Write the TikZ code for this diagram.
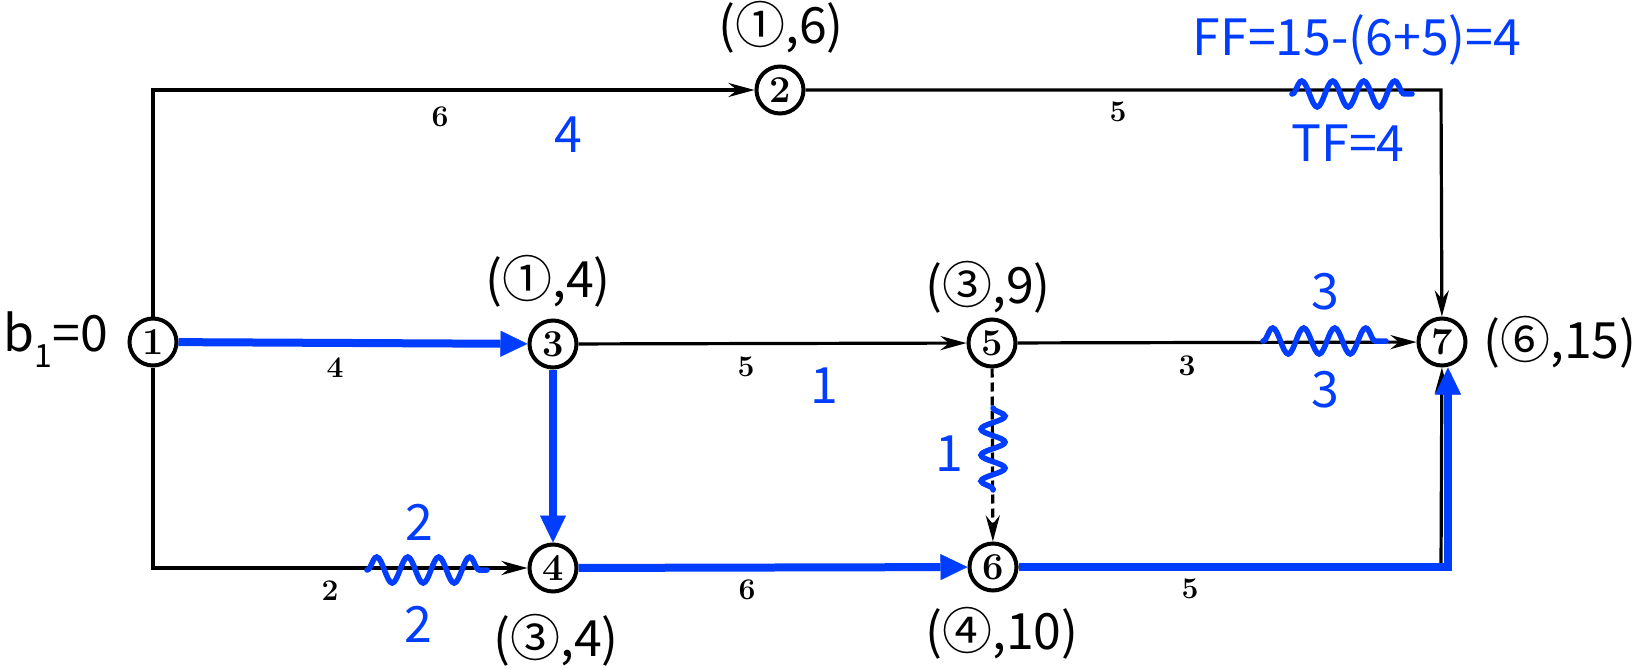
\documentclass[tikz,border=0pt]{standalone}
\usepackage{fontspec}
\newfontfamily\annot{Noto Sans CJK SC}
\usetikzlibrary{arrows.meta,decorations.pathmorphing}
\definecolor{myblue}{RGB}{0,61,255}
\begin{document}
\begin{tikzpicture}[x=1pt,y=-1pt,
  ev/.style={circle,draw,line width=4pt,minimum size=47pt,inner sep=0pt,font=\fontsize{38}{38}\selectfont\bfseries},
  edge/.style={line width=3.2pt,-{Stealth[length=26pt,width=14pt]}},
  crit/.style={myblue,line width=8pt,-{Triangle[length=27pt,width=26pt,line width=0.5pt]}},
  wl/.style={font=\fontsize{30}{30}\selectfont\bfseries},
  bl/.style={myblue,font=\annot\fontsize{50}{50}\selectfont},
  kl/.style={font=\annot\fontsize{50}{50}\selectfont},
  wave/.style={myblue,line width=5.5pt,line cap=round,decorate,decoration={snake,segment length=31pt,amplitude=13pt}},
]
\fill[white] (0,0) rectangle (1634,669);
\useasboundingbox (0,0) rectangle (1634,669);

% event nodes
\node[ev] (n1) at (153,342) {1};
\node[ev] (n2) at (780,90) {2};
\node[ev] (n3) at (553,344) {3};
\node[ev] (n4) at (553,568) {4};
\node[ev] (n5) at (992,343) {5};
\node[ev] (n6) at (993,567) {6};
\node[ev] (n7) at (1442,342) {7};

% corner coordinates
\coordinate (c12) at (153,90);
\coordinate (c27) at (1441,90);
\coordinate (c14) at (153,568);
\coordinate (k67) at (1441,567);
\coordinate (c67) at (1448,567);

% black arrows
\draw[edge] (n1) -- (c12) -- (n2);
\draw[edge] (n2) -- (c27) -- (n7);
\draw[edge] (n3) -- (n5);
\draw[edge] (n5) -- (n7);
\draw[edge] (n1) -- (c14) -- (n4);
\draw[edge,dash pattern=on 9pt off 5pt] (n5) -- (n6);
\draw[edge] (n6) -- (k67) -- (n7);

% critical path
\draw[crit] (n1) -- (n3);
\draw[crit] (n3) -- (n4);
\draw[crit] (n4) -- (n6);
\draw[crit] (n6) -- (c67) -- (c67 |- n7.south);

% waves
\draw[wave] (1292,94) -- (1412,94);
\draw[wave] (1263,341) -- (1386,341);
\draw[wave] (367,570) -- (487,570);
\draw[wave,decoration={snake,segment length=26pt,amplitude=12pt}] (993,408) -- (993,490);

% duration labels
\node[wl] (d12) at (440,117) {6};
\node[wl] (d27) at (1118,112) {5};
\node[wl] (d13) at (335,368) {4};
\node[wl] (d35) at (746,367) {5};
\node[wl] (d57) at (1187,366) {3};
\node[wl] (d14) at (330,591) {2};
\node[wl] (d46) at (747,590) {6};
\node[wl] (d67) at (1190,589) {5};

% blue labels
\node[bl] (b12) at (568,135) {4};
\node[bl] (b35) at (824,386) {1};
\node[bl] (b14a) at (419,522) {2};
\node[bl] (b14b) at (418,624) {2};
\node[bl] (b57a) at (1325,292) {3};
\node[bl] (b57b) at (1325,390) {3};
\node[bl] (b56) at (949,454) {1};
\node[bl] (ff) at (1357,40) {FF=15-(6+5)=4};
\node[bl] (tf) at (1348,143) {TF=4};

% black labels
\node[kl] (l2) at (781,27) {(①,6)};
\node[kl] (l3) at (548,281) {(①,4)};
\node[kl] (l5) at (988,287) {(③,9)};
\node[kl] (l7) at (1560,342) {(⑥,15)};
\node[kl] (l4) at (556,640) {(③,4)};
\node[kl] (l6) at (1002,633) {(④,10)};
\node[kl] (l1) at (56,340) {b\raisebox{-0.32em}{\fontsize{32}{32}\selectfont 1}=0};
\end{tikzpicture}
\end{document}
